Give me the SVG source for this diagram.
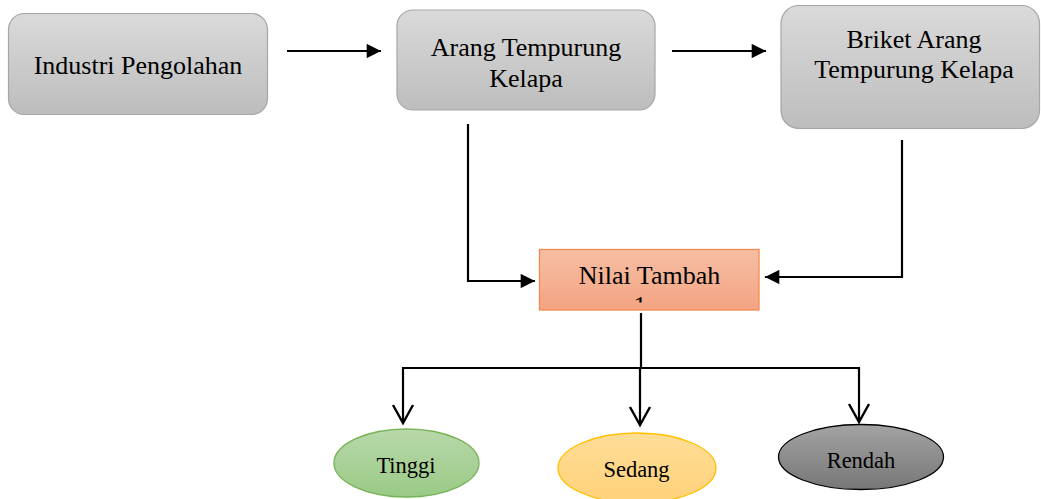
<svg xmlns="http://www.w3.org/2000/svg" width="1041" height="499" viewBox="0 0 1041 499">
  <style>
    .box { fill: url(#gGrey); stroke: #A6A6A6; stroke-width: 1.2; }
    .lbl { font-family: "Liberation Serif", "Times New Roman", serif; font-size: 26px; fill: #000; text-anchor: middle; }
    .sm { font-size: 22.5px; }
    .ln { fill: none; stroke: #000; stroke-width: 2.2; }
    .open { fill: none; stroke: #000; stroke-width: 2.4; stroke-linejoin: miter; }
  </style>
  <defs>
    <linearGradient id="gGrey" x1="0" y1="0" x2="0" y2="1">
      <stop offset="0" stop-color="#DADADA"/>
      <stop offset="1" stop-color="#BDBDBD"/>
    </linearGradient>
    <linearGradient id="gOrange" x1="0" y1="0" x2="0" y2="1">
      <stop offset="0" stop-color="#F6BEA4"/>
      <stop offset="1" stop-color="#F4A482"/>
    </linearGradient>
    <linearGradient id="gGreen" x1="0" y1="0" x2="0" y2="1">
      <stop offset="0" stop-color="#B8D8AA"/>
      <stop offset="1" stop-color="#9ACA86"/>
    </linearGradient>
    <linearGradient id="gYellow" x1="0" y1="0" x2="0" y2="1">
      <stop offset="0" stop-color="#FFDD97"/>
      <stop offset="1" stop-color="#FFD27A"/>
    </linearGradient>
    <linearGradient id="gDark" x1="0" y1="0" x2="0" y2="1">
      <stop offset="0" stop-color="#A3A3A3"/>
      <stop offset="1" stop-color="#777777"/>
    </linearGradient>
    <marker id="arrowFill" viewBox="0 0 10 10" refX="10" refY="5" markerWidth="7" markerHeight="6.5" markerUnits="strokeWidth" orient="auto">
      <path d="M0,0 L10,5 L0,10 Z" fill="#000"/>
    </marker>
    <clipPath id="clipMark">
      <rect x="630" y="290" width="20" height="12.5"/>
    </clipPath>
  </defs>

  <g id="node-industri">
    <rect class="box" x="8.5" y="13.5" width="259" height="101" rx="16"/>
    <text class="lbl" x="138" y="74">Industri Pengolahan</text>
  </g>

  <g id="node-arang">
    <rect class="box" x="397" y="10" width="258" height="100" rx="16"/>
    <text class="lbl" x="526" y="56">Arang Tempurung</text>
    <text class="lbl" x="526" y="87">Kelapa</text>
  </g>

  <g id="node-briket">
    <rect class="box" x="781" y="5.5" width="258.5" height="123" rx="18"/>
    <text class="lbl" x="914" y="48">Briket Arang</text>
    <text class="lbl" x="914" y="78">Tempurung Kelapa</text>
  </g>

  <g id="node-nilai">
    <rect x="539.5" y="249.5" width="219.5" height="60.5" fill="url(#gOrange)" stroke="#F28A4F" stroke-width="1.3"/>
    <text class="lbl" x="649.5" y="284">Nilai Tambah</text>
    <text class="lbl" x="640" y="314" clip-path="url(#clipMark)">1</text>
  </g>

  <g id="node-tinggi">
    <ellipse cx="406.5" cy="463" rx="72.5" ry="34" fill="url(#gGreen)" stroke="#77B255" stroke-width="1.3"/>
    <text class="lbl sm" x="406" y="473">Tinggi</text>
  </g>

  <g id="node-sedang">
    <ellipse cx="637" cy="468" rx="79" ry="35" fill="url(#gYellow)" stroke="#FFC000" stroke-width="1.3"/>
    <text class="lbl sm" x="636.5" y="477">Sedang</text>
  </g>

  <g id="node-rendah">
    <ellipse cx="861" cy="457" rx="82.5" ry="32.5" fill="url(#gDark)" stroke="#000" stroke-width="1.3"/>
    <text class="lbl sm" x="861" y="468">Rendah</text>
  </g>

  <g id="connectors">
    <line class="ln" x1="287" y1="51" x2="381" y2="51" marker-end="url(#arrowFill)"/>
    <line class="ln" x1="672" y1="51" x2="766" y2="51" marker-end="url(#arrowFill)"/>
    <polyline class="ln" points="468,124 468,281 535,281" marker-end="url(#arrowFill)"/>
    <polyline class="ln" points="902,140 902,277 765,277" marker-end="url(#arrowFill)"/>
    <line class="ln" x1="641" y1="313" x2="641" y2="368"/>
    <polyline class="ln" points="403,421 403,368 859,368 859,421"/>
    <line class="ln" x1="640" y1="368" x2="640" y2="424"/>
    <polyline class="open" points="393,405 403,423 413,405"/>
    <polyline class="open" points="630,407 640,425 650,407"/>
    <polyline class="open" points="849,404 859,422 869,404"/>
  </g>
</svg>
